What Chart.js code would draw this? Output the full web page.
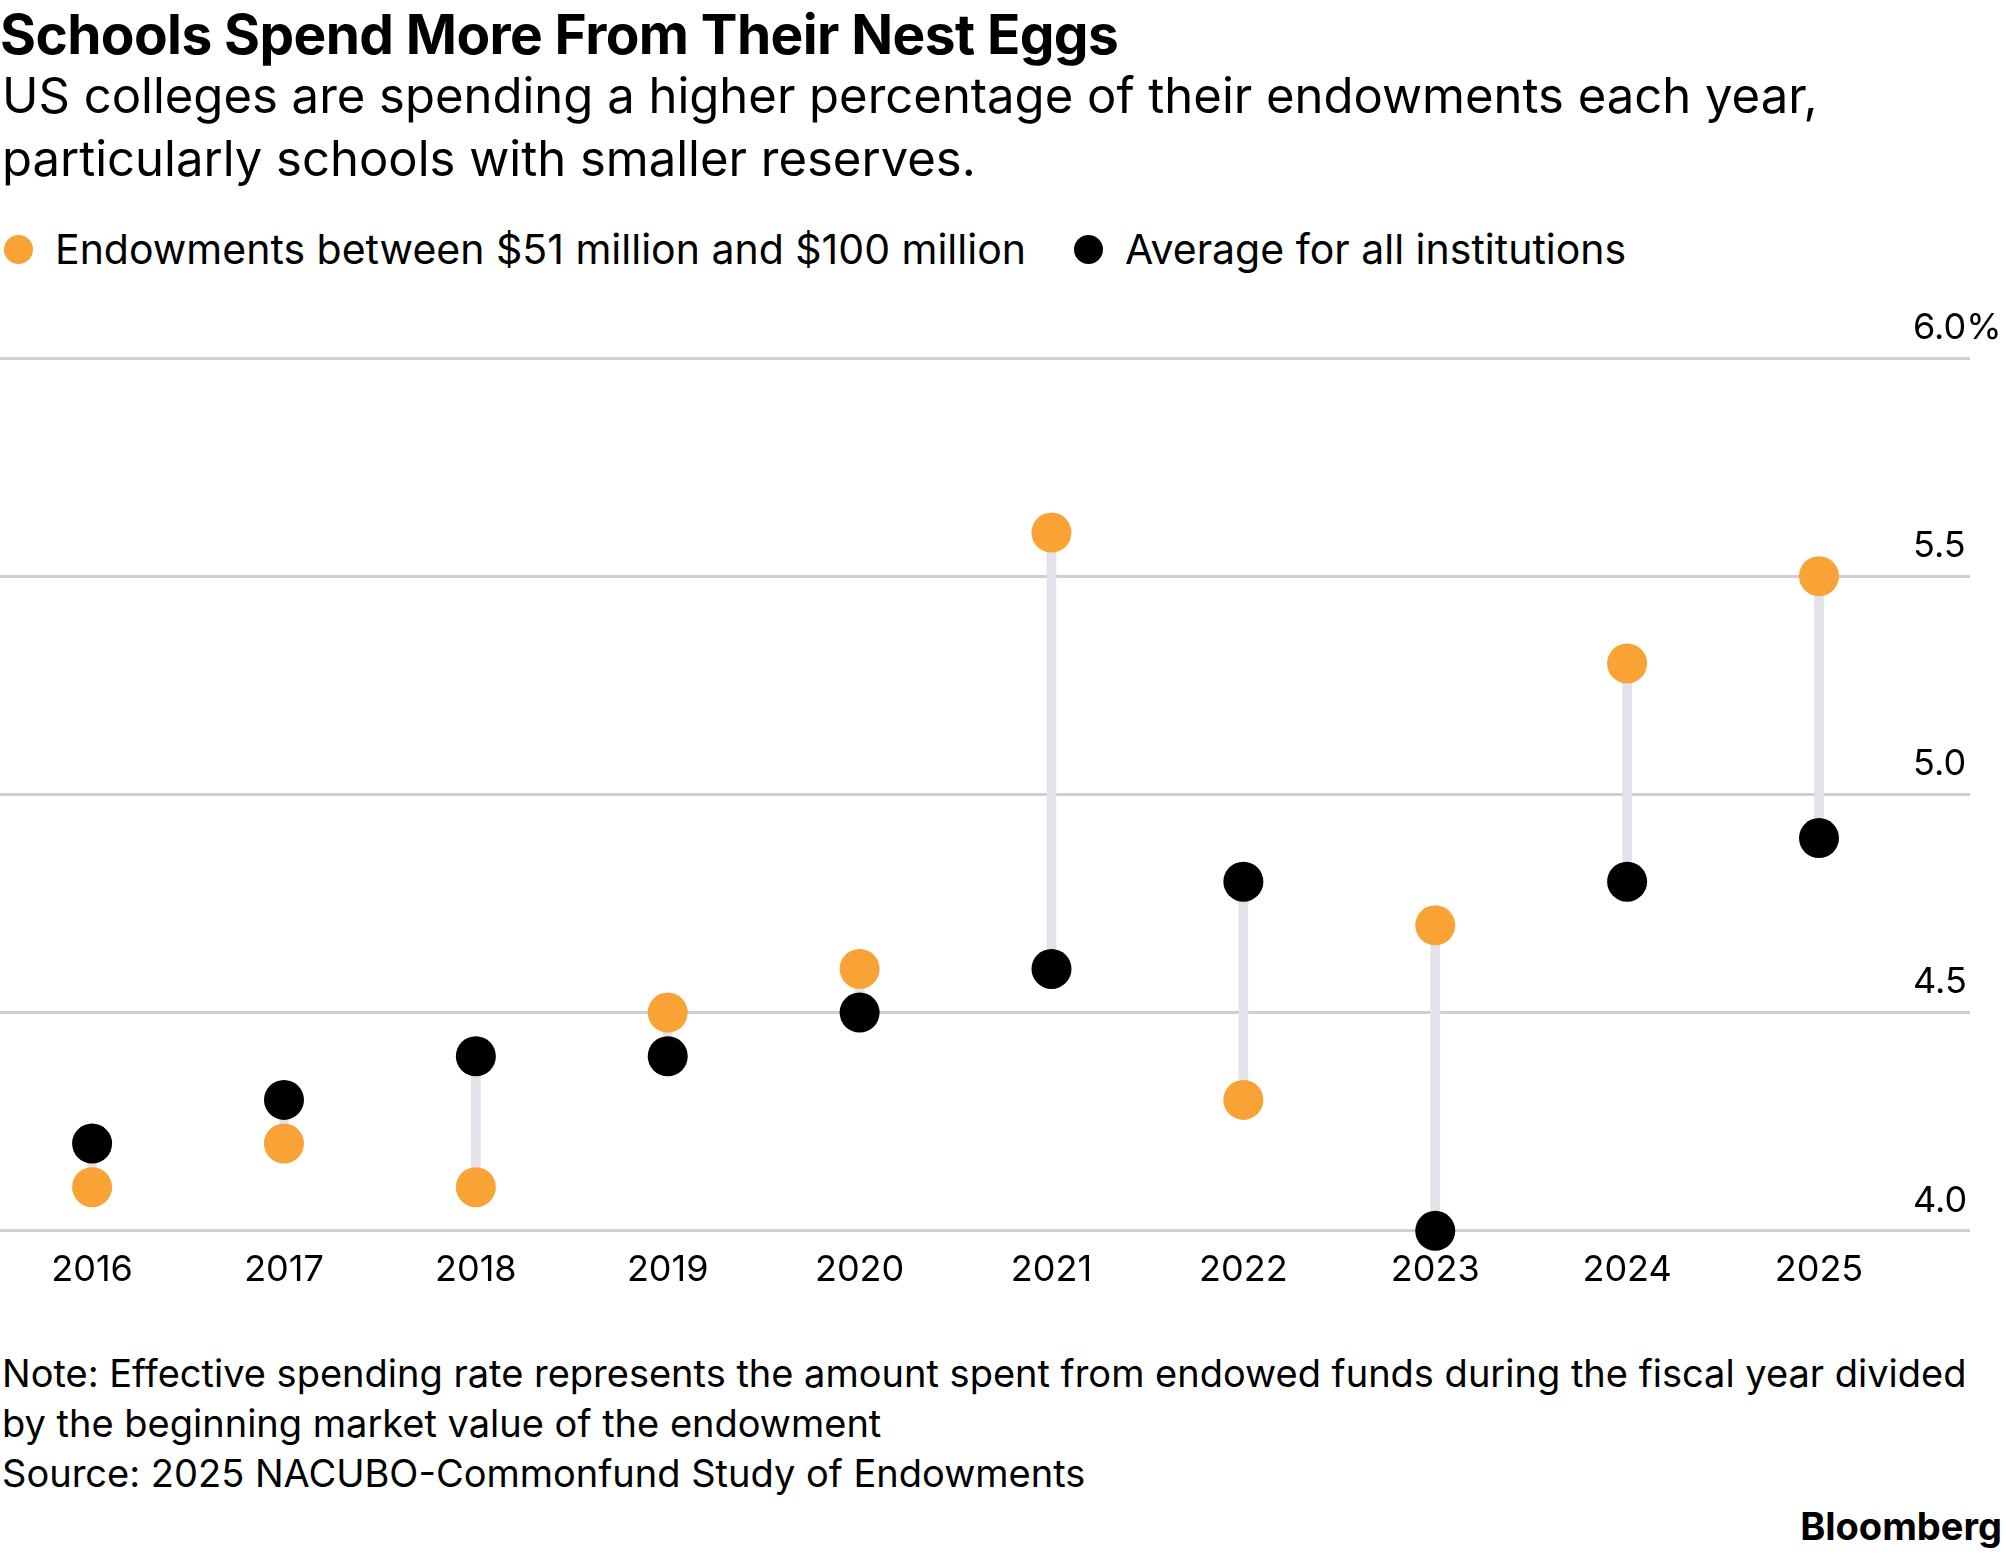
<!DOCTYPE html>
<html><head><meta charset="utf-8">
<script src="https://cdn.jsdelivr.net/npm/chart.js@4"></script>
<style>
body{margin:0;width:2006px;height:1557px;background:#fff;font-family:Inter,"Noto Sans",sans-serif;color:#000;position:relative;overflow:hidden}
.t{position:absolute;left:0;top:1px;font-size:55px;font-weight:700;letter-spacing:-0.6px}
.s{position:absolute;left:2px;top:64px;font-size:49px;line-height:63px;width:1990px}
.lg{position:absolute;top:224px;font-size:41px;display:flex;align-items:center}
.dot{width:29px;height:29px;border-radius:50%;display:inline-block;margin-right:22px}
#wrap{position:absolute;left:0;top:280px;width:2006px;height:1040px}
.n{position:absolute;left:2px;top:1348px;font-size:38px;line-height:50px;width:1995px}
.b{position:absolute;right:4px;top:1503px;font-size:38px;font-weight:700}
</style></head><body>
<div class="t">Schools Spend More From Their Nest Eggs</div>
<div class="s">US colleges are spending a higher percentage of their endowments each year,<br>particularly schools with smaller reserves.</div>
<div class="lg" style="left:4px"><span class="dot" style="background:#f9a236"></span>Endowments between $51 million and $100 million</div>
<div class="lg" style="left:1074px"><span class="dot" style="background:#000"></span>Average for all institutions</div>
<div id="wrap"><canvas id="c"></canvas></div>
<div class="n">Note: Effective spending rate represents the amount spent from endowed funds during the fiscal year divided by the beginning market value of the endowment<br>Source: 2025 NACUBO-Commonfund Study of Endowments</div>
<div class="b">Bloomberg</div>
<script>
const years = [2016, 2017, 2018, 2019, 2020, 2021, 2022, 2023, 2024, 2025];
const smallEndow = [4.1, 4.2, 4.1, 4.5, 4.6, 5.6, 4.3, 4.7, 5.3, 5.5];
const allInst = [4.2, 4.3, 4.4, 4.4, 4.5, 4.6, 4.8, 4.0, 4.8, 4.9];
const yTicks = [4.0, 4.5, 5.0, 5.5, 6.0];

const ranges = years.map((y, i) => ({x: y, y: [Math.min(smallEndow[i], allInst[i]), Math.max(smallEndow[i], allInst[i])]}));

// y labels sit above the gridlines at the right edge
const yLabels = {
    id: 'yLabels',
    afterDraw(chart) {
        const c = chart.ctx, y = chart.scales.y;
        c.save();
        c.font = '36px Inter, "Noto Sans", sans-serif';
        c.fillStyle = '#000';
        c.textBaseline = 'bottom';
        yTicks.forEach(v => {
            c.fillText(v === 6 ? '6.0%' : v.toFixed(1), 1913, y.getPixelForValue(v) - 12);
        });
        c.restore();
    }
};

new Chart(document.getElementById('c'), {
    data: {
        datasets: [
            {type: 'scatter', data: years.map((x, i) => ({x, y: smallEndow[i]})), backgroundColor: '#f9a236', borderWidth: 0, pointRadius: 20, clip: false, order: 1},
            {type: 'scatter', data: years.map((x, i) => ({x, y: allInst[i]})), backgroundColor: '#000', borderWidth: 0, pointRadius: 20, clip: false, order: 0},
            {type: 'bar', data: ranges, backgroundColor: '#e2e2e8', barThickness: 9, order: 2}
        ]
    },
    options: {
        responsive: true,
        maintainAspectRatio: false,
        animation: false,
        layout: {autoPadding: false, padding: {top: 78, right: 36, left: 0, bottom: 10}},
        plugins: {legend: {display: false}, tooltip: {enabled: false}},
        scales: {
            x: {
                type: 'linear', min: 2015.52, max: 2025.787, offset: false,
                afterBuildTicks: s => { s.ticks = years.map(v => ({value: v})); },
                grid: {display: false, drawTicks: false},
                border: {display: false},
                ticks: {color: '#000', font: {size: 36, family: 'Inter'}, padding: 18, callback: v => String(v)}
            },
            y: {
                min: 4, max: 6,
                afterBuildTicks: s => { s.ticks = yTicks.map(v => ({value: v})); },
                afterFit: s => { s.width = 0; },
                grid: {color: '#cfcfcf', lineWidth: 3, drawTicks: false},
                border: {display: false},
                ticks: {display: false}
            }
        }
    },
    plugins: [yLabels]
});
</script>
</body></html>
